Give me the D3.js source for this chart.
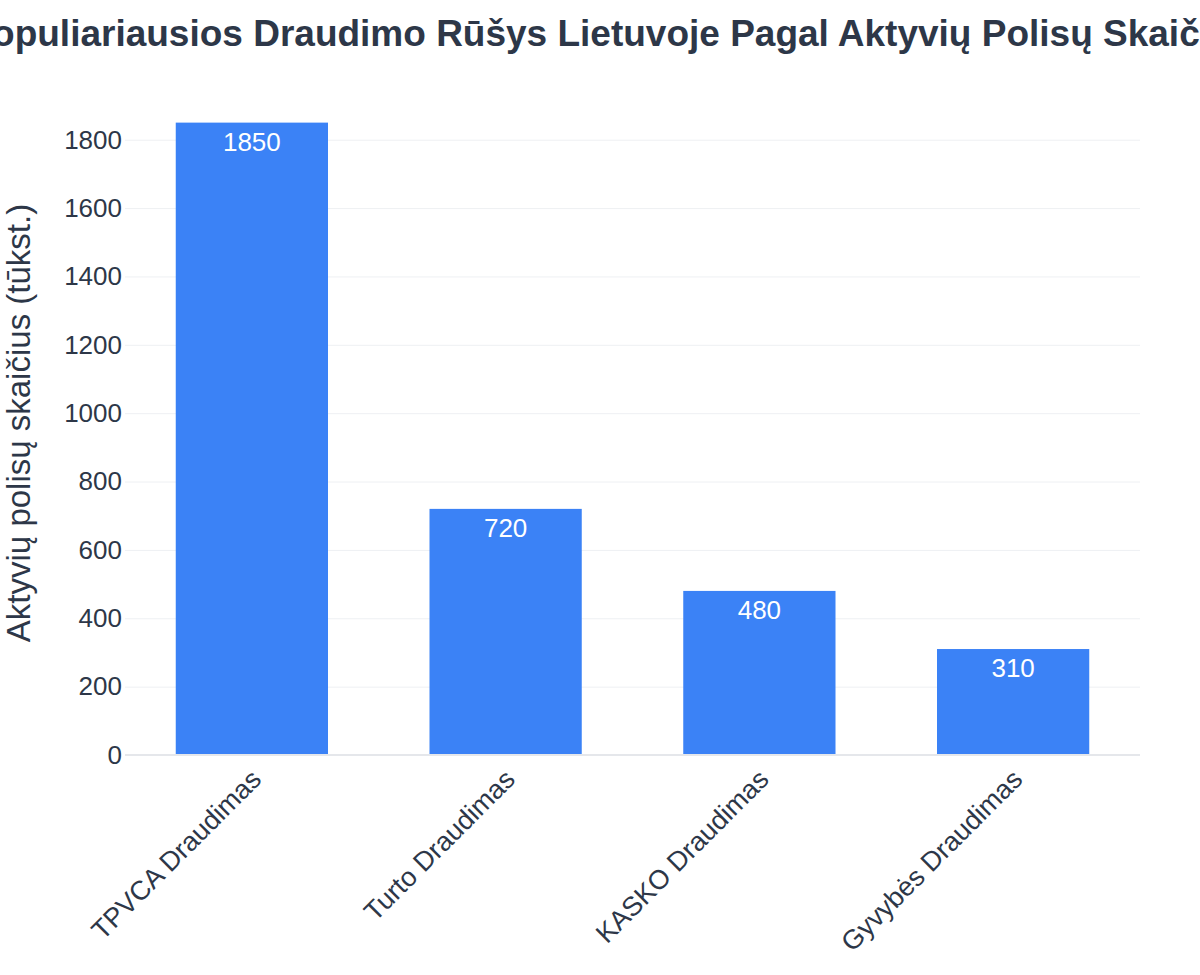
<!DOCTYPE html>
<html>
<head>
<meta charset="utf-8">
<script src="https://cdn.jsdelivr.net/npm/d3@7"></script>
<style>
  html, body { margin: 0; padding: 0; background: #fff; overflow: hidden; }
  body { font-family: Arial, "Liberation Sans", Helvetica, sans-serif; }
  .grid line { stroke: #eef0f3; stroke-width: 1; }
  .axis text { fill: #2d3748; }
</style>
</head>
<body>
<div id="chart"></div>
<script>
// Data
const categories = ["TPVCA Draudimas", "Turto Draudimas", "KASKO Draudimas", "Gyvybės Draudimas"];
const values = [1850, 720, 480, 310];
const yTicks = [0, 200, 400, 600, 800, 1000, 1200, 1400, 1600, 1800];

const titleText = "Populiariausios Draudimo Rūšys Lietuvoje Pagal Aktyvių Polisų Skaičių";
const yTitleText = "Aktyvių polisų skaičius (tūkst.)";

const W = 1200, H = 975;
const margin = { top: 91, right: 60, bottom: 220, left: 125 };
const width = W - margin.left - margin.right;
const height = H - margin.top - margin.bottom;

const svg = d3.select("#chart")
    .append("svg")
    .attr("width", W)
    .attr("height", H);

const g = svg.append("g")
    .attr("transform", `translate(${margin.left},${margin.top})`);

const data = categories.map((c, i) => ({ cat: c, val: values[i] }));

// Scales
const x = d3.scaleBand()
    .domain(categories)
    .range([0, width])
    .paddingInner(0.4)
    .paddingOuter(0.2);

const y = d3.scaleLinear()
    .domain([0, d3.max(values) * 1.05])
    .range([height, 0]);

// Grid
g.append("g")
    .attr("class", "grid")
    .call(d3.axisLeft(y).tickValues(yTicks).tickSize(-width).tickFormat(""))
    .call(s => s.select(".domain").remove());

// Y axis labels
g.append("g")
    .attr("class", "axis")
    .call(d3.axisLeft(y).tickValues(yTicks).tickSize(0).tickPadding(3).tickFormat(d3.format("d")))
    .call(s => s.select(".domain").remove())
    .selectAll("text")
    .attr("font-size", "26px")
    .attr("font-family", "Arial, 'Liberation Sans', sans-serif");

// Bars
g.selectAll(".bar")
    .data(data)
    .join("rect")
    .attr("class", "bar")
    .attr("x", d => x(d.cat))
    .attr("y", d => y(d.val))
    .attr("width", x.bandwidth())
    .attr("height", d => height - y(d.val))
    .attr("fill", "#3b82f6");

// Zero line
g.append("line")
    .attr("x1", 0)
    .attr("x2", width)
    .attr("y1", y(0))
    .attr("y2", y(0))
    .attr("stroke", "#e5e7eb")
    .attr("stroke-width", 2);

// Value labels inside bars
g.selectAll(".bar-label")
    .data(data)
    .join("text")
    .attr("class", "bar-label")
    .attr("x", d => x(d.cat) + x.bandwidth() / 2)
    .attr("y", d => y(d.val) + 28)
    .attr("text-anchor", "middle")
    .attr("fill", "#ffffff")
    .attr("font-size", "26px")
    .text(d => d.val);

// X axis labels
const xAxis = g.append("g")
    .attr("class", "axis")
    .attr("transform", `translate(0,${height})`)
    .call(d3.axisBottom(x).tickSize(0).tickPadding(0))
    .call(s => s.select(".domain").remove());

xAxis.selectAll("text")
    .attr("font-size", "27px")
    .attr("text-anchor", "end")
    .attr("dy", null)
    .attr("y", 0)
    .attr("transform", "translate(11,26) rotate(-45)");

// Y axis title
svg.append("text")
    .attr("transform", `translate(30,${margin.top + height / 2}) rotate(-90)`)
    .attr("text-anchor", "middle")
    .attr("fill", "#2d3748")
    .attr("font-size", "33px")
    .text(yTitleText);

// Title (wider than the page, as in the original)
svg.append("text")
    .attr("x", W / 2)
    .attr("y", 46)
    .attr("text-anchor", "middle")
    .attr("fill", "#2d3748")
    .attr("font-size", "37px")
    .attr("font-weight", "bold")
    .text(titleText);
</script>
</body>
</html>
